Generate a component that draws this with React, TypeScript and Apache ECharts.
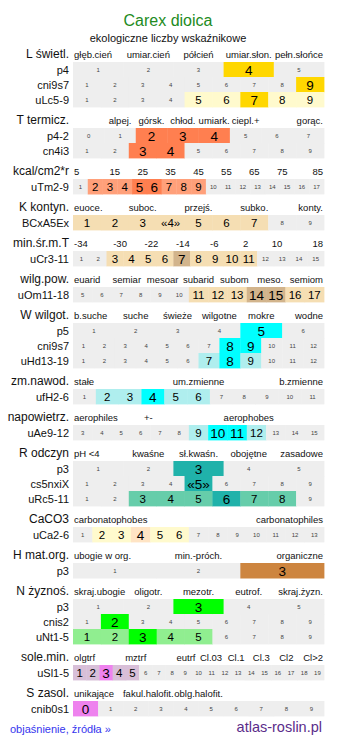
import React, { useEffect, useRef } from "react";
import * as echarts from "echarts";

const FONT = "'Liberation Sans', Arial, Helvetica, sans-serif";

// ---------------- data ----------------
const headerL = ["głęb.cień", "umiar.cień", "półcień", "umiar.słon.", "pełn.słońce"];
const rowsL = [
  { code: "p4", cells: ["1", "2", "3", "4", "5"], main: ["4"], side: [] as string[] },
  { code: "cni9s7", cells: ["1", "2", "3", "4", "5", "6", "7", "8", "9"], main: ["9"], side: [] as string[] },
  { code: "uLc5-9", cells: ["1", "2", "3", "4", "5", "6", "7", "8", "9"], main: ["7"], side: ["5", "6", "8", "9"] },
];

const headerT = ["", "alpej.", "górsk.", "chłod.", "umiark.", "ciepl.+", "", "gorąc."];
const rowsT = [
  { code: "p4-2", cells: ["0", "1", "2", "3", "4", "5", "6", "7"], main: ["2", "3", "4"], side: [] as string[] },
  { code: "cn4i3", cells: ["1", "2", "3", "4", "5", "6", "7", "8", "9"], main: ["3", "4"], side: [] as string[] },
];

const headerKcal = ["5", "15", "25", "35", "45", "55", "65", "75", "85"];
const rowsKcal = [
  {
    code: "uTm2-9",
    cells: ["1", "2", "3", "4", "5", "6", "7", "8", "9", "10", "11", "12", "13", "14", "15", "16", "17"],
    main: ["5", "6"],
    side: ["2", "3", "4", "7", "8", "9"],
  },
];

const headerK = ["euoce.", "", "suboc.", "", "przejś.", "", "subko.", "", "konty."];
const rowsK = [
  { code: "BCxA5Ex", cells: ["1", "2", "3", "«4»", "5", "6", "7", "8", "9"], main: [] as string[], side: ["1", "2", "3", "«4»", "5", "6", "7"] },
];

const headerMinT = ["-34", "-30", "-22", "-14", "-6", "2", "10", "18"];
const rowsMinT = [
  {
    code: "uCr3-11",
    cells: ["1", "2", "3", "4", "5", "6", "7", "8", "9", "10", "11", "12", "13", "14", "15"],
    main: ["7"],
    side: ["3", "4", "5", "6", "8", "9", "10", "11"],
  },
];

const headerWilgPow = ["euarid", "semiar", "mesoar", "subarid", "subom", "meso.", "semiom"];
const rowsWilgPow = [
  {
    code: "uOm11-18",
    cells: ["5", "6", "7", "8", "9", "10", "11", "12", "13", "14", "15", "16", "17"],
    main: ["14", "15"],
    side: ["11", "12", "13", "16", "17"],
  },
];

const headerW = ["b.suche", "suche", "świeże", "wilgotne", "mokre", "wodne"];
const rowsW = [
  { code: "p5", cells: ["1", "2", "3", "4", "5", "6"], main: ["5"], side: [] as string[] },
  { code: "cni9s7", cells: ["1", "2", "3", "4", "5", "6", "7", "8", "9", "10", "11", "12"], main: ["8", "9"], side: [] as string[] },
  { code: "uHd13-19", cells: ["1", "2", "3", "4", "5", "6", "7", "8", "9", "10", "11", "12"], main: ["8"], side: ["7", "9"] },
];

const headerZm = ["stałe", "um.zmienne", "b.zmienne"];
const rowsZm = [
  { code: "ufH2-6", cells: ["1", "2", "3", "4", "5", "6", "7", "8", "9", "10", "11"], main: ["4"], side: ["2", "3", "5", "6"] },
];

const headerNap = ["aerophiles", "+-", "", "aerophobes", ""];
const rowsNap = [
  {
    code: "uAe9-12",
    cells: ["3", "4", "5", "6", "7", "8", "9", "10", "11", "12", "13", "14", "15"],
    main: ["10", "11"],
    side: ["9", "12"],
  },
];

const headerR = ["pH <4", "kwaśne", "sł.kwaśn.", "obojętne", "zasadowe"];
const rowsR = [
  { code: "p3", cells: ["1", "2", "3", "4", "5"], main: ["3"], side: [] as string[] },
  { code: "cs5nxiX", cells: ["1", "2", "3", "4", "«5»", "6", "7", "8", "9"], main: ["«5»"], side: [] as string[] },
  { code: "uRc5-11", cells: ["1", "2", "3", "4", "5", "6", "7", "8", "9"], main: ["6"], side: ["3", "4", "5", "7", "8"] },
];

const headerCa = ["carbonatophobes", "carbonatophiles"];
const rowsCa = [
  {
    code: "uCa2-6",
    cells: ["1", "2", "3", "4", "5", "6", "7", "8", "9", "10", "11", "12", "13"],
    main: ["4"],
    side: ["2", "3", "5", "6"],
  },
];

const headerH = ["ubogie w org.", "min.-próch.", "organiczne"];
const rowsH = [{ code: "p3", cells: ["1", "2", "3"], main: ["3"], side: [] as string[] }];

const headerN = ["skraj.ubogie", "oligotr.", "mezotr.", "eutrof.", "skraj.żyzn."];
const rowsN = [
  { code: "p3", cells: ["1", "2", "3", "4", "5"], main: ["3"], side: [] as string[] },
  { code: "cnis2", cells: ["1", "2", "3", "4", "5", "6", "7", "8", "9"], main: ["2"], side: [] as string[] },
  { code: "uNt1-5", cells: ["1", "2", "3", "4", "5", "6", "7", "8", "9"], main: ["3"], side: ["1", "2", "4", "5"] },
];

const headerSole = ["olgtrf", "", "mztrf", "", "eutrf", "Cl.03", "Cl.1", "Cl.3", "Cl2", "Cl>2"];
const rowsSole = [
  {
    code: "uSl1-5",
    cells: ["1", "2", "3", "4", "5", "6", "7", "8", "9", "10", "11", "12", "13", "14", "15", "16", "17", "18", "19"],
    main: ["3"],
    side: ["1", "2", "4", "5"],
  },
];

const headerS = ["unikające", "fakul.halofit.", "oblg.halofit.", "", ""];
const rowsS = [{ code: "cnib0s1", cells: ["0", "1", "2", "3", "4", "5", "6", "7", "8", "9"], main: ["0"], side: [] as string[] }];

const sections = [
  { key: "L", label: "L świetl.", header: headerL, rows: rowsL },
  { key: "T", label: "T termicz.", header: headerT, rows: rowsT },
  { key: "T", label: "kcal/cm2*r", header: headerKcal, rows: rowsKcal },
  { key: "K", label: "K kontyn.", header: headerK, rows: rowsK },
  { key: "K", label: "min.śr.m.T", header: headerMinT, rows: rowsMinT },
  { key: "K", label: "wilg.pow.", header: headerWilgPow, rows: rowsWilgPow },
  { key: "W", label: "W wilgot.", header: headerW, rows: rowsW },
  { key: "W", label: "zm.nawod.", header: headerZm, rows: rowsZm },
  { key: "W", label: "napowietrz.", header: headerNap, rows: rowsNap },
  { key: "R", label: "R odczyn", header: headerR, rows: rowsR },
  { key: "Ca", label: "CaCO3", header: headerCa, rows: rowsCa },
  { key: "H", label: "H mat.org.", header: headerH, rows: rowsH },
  { key: "N", label: "N żyznoś.", header: headerN, rows: rowsN },
  { key: "Sl", label: "sole.min.", header: headerSole, rows: rowsSole },
  { key: "S", label: "S zasol.", header: headerS, rows: rowsS },
];

// ---------------- styles ----------------
const palette: Record<string, { main: string; side: string }> = {
  L: { main: "#FFD700", side: "#FFFACD" },
  T: { main: "#FF7F50", side: "#FFA07A" },
  K: { main: "#D2B48C", side: "#F5DEB3" },
  W: { main: "#00FFFF", side: "#AFEEEE" },
  R: { main: "#20B2AA", side: "#66CDAA" },
  Ca: { main: "#FFE4C4", side: "#FFFACD" },
  H: { main: "#CD853F", side: "#DEB887" },
  N: { main: "#00FF00", side: "#90EE90" },
  Sl: { main: "#EE82EE", side: "#D8BFD8" },
  S: { main: "#EE82EE", side: "#D8BFD8" },
};
const GREY = "#EEEEEE";

// layout (pixels)
const CW = 337;
const CH = 745;
const GRID_LEFT = 73;
const GRID_RIGHT_EDGE = 324;
const FIRST_HEADER_Y = 54;
const HEADER_TO_ROW = 15.5;
const ROW_STEP = 15;
const ROW_TO_HEADER = 20.5;
const ROW_H = 15;

type CellItem = { value: number[]; text: string; state: number; key: string };
type TextItem = { value: number[]; text: string; kind: string };

function buildLayout() {
  const cells: CellItem[] = [];
  const headers: TextItem[] = [];
  const labels: TextItem[] = [];
  let y = FIRST_HEADER_Y;
  sections.forEach((sec) => {
    labels.push({ value: [0, y], text: sec.label, kind: "section" });
    sec.header.forEach((t, i) => {
      if (t) headers.push({ value: [i, sec.header.length, y], text: t, kind: "header" });
    });
    sec.rows.forEach((row, r) => {
      const ry = y + HEADER_TO_ROW + r * ROW_STEP;
      labels.push({ value: [0, ry], text: row.code, kind: "row" });
      row.cells.forEach((c, i) => {
        const state = row.main.includes(c) ? 2 : row.side.includes(c) ? 1 : 0;
        cells.push({ value: [i, row.cells.length, ry], text: c, state, key: sec.key });
      });
    });
    y = y + HEADER_TO_ROW + (sec.rows.length - 1) * ROW_STEP + ROW_TO_HEADER;
  });
  return { cells, headers, labels };
}

export default function App() {
  const ref = useRef<HTMLDivElement>(null);
  useEffect(() => {
    if (!ref.current) return;
    const chart = echarts.init(ref.current, undefined, { renderer: "svg" });
    const { cells, headers, labels } = buildLayout();

    const option: any = {
      animation: false,
      backgroundColor: "#ffffff",
      grid: { left: GRID_LEFT, right: CW - GRID_RIGHT_EDGE, top: 0, bottom: 0, containLabel: false },
      xAxis: { type: "value", min: 0, max: 1, show: false },
      yAxis: { type: "value", min: 0, max: CH, inverse: true, show: false },
      graphic: [
        {
          type: "text",
          x: 168,
          y: 20,
          style: { text: "Carex dioica", fill: "#228B22", fontSize: 16, fontFamily: FONT, align: "center", verticalAlign: "middle" },
        },
        {
          type: "text",
          x: 168,
          y: 38,
          style: { text: "ekologiczne liczby wskaźnikowe", fill: "#111", fontSize: 11, fontFamily: FONT, align: "center", verticalAlign: "middle" },
        },
        {
          type: "text",
          x: 10,
          y: 729,
          style: { text: "objaśnienie, źródła »", fill: "#3535EE", fontSize: 11, fontFamily: FONT, align: "left", verticalAlign: "middle" },
        },
        {
          type: "text",
          x: 322,
          y: 727,
          style: { text: "atlas-roslin.pl", fill: "#5B2C8A", fontSize: 14.5, fontFamily: FONT, align: "right", verticalAlign: "middle" },
        },
      ],
      series: [
        {
          type: "custom",
          name: "cells",
          clip: false,
          silent: true,
          data: cells.map((c) => ({ value: c.value })),
          renderItem: (params: any, api: any) => {
            const d = cells[params.dataIndex];
            const i = api.value(0);
            const n = api.value(1);
            const yc = api.value(2);
            const a = api.coord([i / n, yc]);
            const b = api.coord([(i + 1) / n, yc]);
            const h = api.size([0, ROW_H])[1];
            const pal = palette[d.key];
            const fill = d.state === 2 ? pal.main : d.state === 1 ? pal.side : GREY;
            const fontSize = d.state === 2 ? 13.5 : d.state === 1 ? 11.5 : 6;
            const color = d.state === 0 ? "#444" : "#000";
            return {
              type: "group",
              children: [
                {
                  type: "rect",
                  shape: { x: a[0], y: a[1] - h / 2, width: b[0] - a[0] + 0.4, height: h + 0.4 },
                  style: { fill },
                },
                {
                  type: "text",
                  x: (a[0] + b[0]) / 2,
                  y: a[1] + 0.5,
                  style: { text: d.text, fill: color, fontSize, fontFamily: FONT, align: "center", verticalAlign: "middle" },
                },
              ],
            };
          },
        },
        {
          type: "custom",
          name: "headers",
          clip: false,
          silent: true,
          data: headers.map((c) => ({ value: c.value })),
          renderItem: (params: any, api: any) => {
            const d = headers[params.dataIndex];
            const i = api.value(0);
            const n = api.value(1);
            const yc = api.value(2);
            const a = api.coord([i / n, yc]);
            const b = api.coord([(i + 1) / n, yc]);
            let x = (a[0] + b[0]) / 2;
            let align = "center";
            if (i === 0 && n > 1) {
              x = a[0] + 1;
              align = "left";
            } else if (i === n - 1) {
              x = b[0] - 1;
              align = "right";
            }
            return {
              type: "text",
              x,
              y: a[1],
              style: { text: d.text, fill: "#111", fontSize: 9.5, fontFamily: FONT, align, verticalAlign: "middle" },
            };
          },
        },
        {
          type: "custom",
          name: "labels",
          clip: false,
          silent: true,
          data: labels.map((c) => ({ value: c.value })),
          renderItem: (params: any, api: any) => {
            const d = labels[params.dataIndex];
            const p = api.coord([api.value(0), api.value(1)]);
            return {
              type: "text",
              x: p[0] - 4,
              y: p[1],
              style: {
                text: d.text,
                fill: "#111",
                fontSize: d.kind === "section" ? 12 : 11,
                fontFamily: FONT,
                align: "right",
                verticalAlign: "middle",
              },
            };
          },
        },
      ],
    };
    chart.setOption(option);
    return () => chart.dispose();
  }, []);

  return (
    <div
      ref={ref}
      style={{ position: "absolute", left: 0, top: 0, width: CW, height: CH, background: "#fff" }}
    />
  );
}
